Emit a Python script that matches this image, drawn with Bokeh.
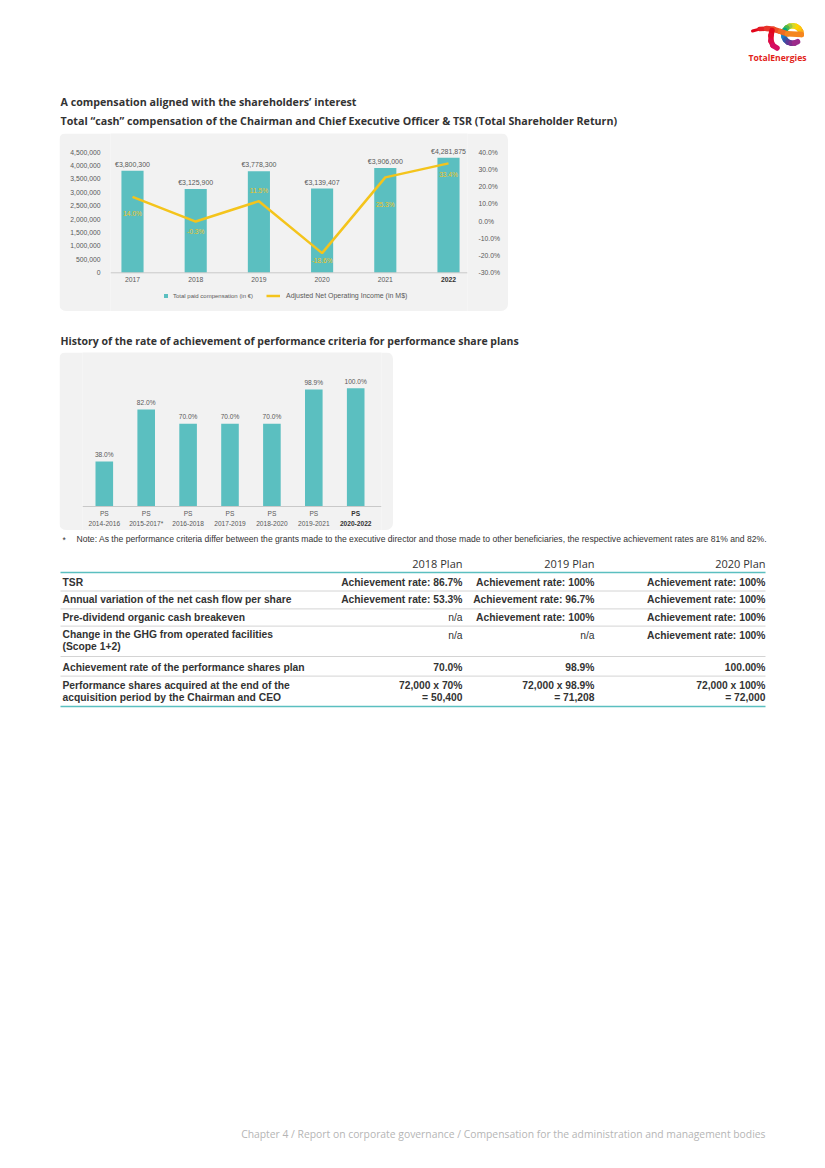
import numpy as np
from bokeh.plotting import figure
from bokeh.models import Range1d, LinearAxis, FixedTicker, Span, Legend, LegendItem, ColumnDataSource, Spacer
from bokeh.layouts import column, row
from bokeh.core.properties import value
from bokeh.embed import file_html
from bokeh.resources import INLINE

# ------------------------------------------------------------------ data
title_1 = "A compensation aligned with the shareholders\u2019 interest"
title_2 = "Total \u201ccash\u201d compensation of the Chairman and Chief Executive Officer & TSR (Total Shareholder Return)"
title_3 = "History of the rate of achievement of performance criteria for performance share plans"

years = ["2017", "2018", "2019", "2020", "2021", "2022"]
total_comp = [3800300, 3125900, 3778300, 3139407, 3906000, 4281875]
comp_labels = ["\u20ac3,800,300", "\u20ac3,125,900", "\u20ac3,778,300", "\u20ac3,139,407", "\u20ac3,906,000", "\u20ac4,281,875"]
tsr = [14.0, -0.3, 11.5, -18.6, 25.3, 33.4]
tsr_labels = ["14.0%", "-0.3%", "11.5%", "-18.6%", "25.3%", "33.4%"]
left_ticks = [0, 500000, 1000000, 1500000, 2000000, 2500000, 3000000, 3500000, 4000000, 4500000]
left_tick_labels = ["0", "500,000", "1,000,000", "1,500,000", "2,000,000", "2,500,000",
                    "3,000,000", "3,500,000", "4,000,000", "4,500,000"]
right_ticks = [-30, -20, -10, 0, 10, 20, 30, 40]
right_tick_labels = ["-30.0%", "-20.0%", "-10.0%", "0.0%", "10.0%", "20.0%", "30.0%", "40.0%"]
legend_bar = "Total paid compensation (in \u20ac)"
legend_line = "Adjusted Net Operating Income (in M$)"

ps_plans = ["2014-2016", "2015-2017*", "2016-2018", "2017-2019", "2018-2020", "2019-2021", "2020-2022"]
ps_rates = [38.0, 82.0, 70.0, 70.0, 70.0, 98.9, 100.0]
ps_labels = ["38.0%", "82.0%", "70.0%", "70.0%", "70.0%", "98.9%", "100.0%"]

footnote = ("Note: As the performance criteria differ between the grants made to the executive director "
            "and those made to other beneficiaries, the respective achievement rates are 81% and 82%.")

plan_headers = ["2018 Plan", "2019 Plan", "2020 Plan"]
row_labels = ["TSR",
              "Annual variation of the net cash flow per share",
              "Pre-dividend organic cash breakeven",
              "Change in the GHG from operated facilities\n(Scope 1+2)",
              "Achievement rate of the performance shares plan",
              "Performance shares acquired at the end of the\nacquisition period by the Chairman and CEO"]
plan_2018 = ["Achievement rate: 86.7%", "Achievement rate: 53.3%", "n/a", "n/a", "70.0%", "72,000 x 70%\n= 50,400"]
plan_2019 = ["Achievement rate: 100%", "Achievement rate: 96.7%", "Achievement rate: 100%", "n/a", "98.9%",
             "72,000 x 98.9%\n= 71,208"]
plan_2020 = ["Achievement rate: 100%", "Achievement rate: 100%", "Achievement rate: 100%", "Achievement rate: 100%",
             "100.00%", "72,000 x 100%\n= 72,000"]

footer = "Chapter 4 / Report on corporate governance / Compensation for the administration and management bodies"
brand = "TotalEnergies"

# ------------------------------------------------------------------ styles / layout
TEAL = "#5bbfc0"
YELLOW = "#f4c41c"
GRAY_TXT = "#595959"
DARK = "#333333"
PANEL = "#f2f2f2"
RULE = "#c9c9c9"
CHART_FONT = "Liberation Sans"
HEAD_FONT = "Open Sans"


def vrange(v_a, py_a, v_b, py_b, top, bottom):
    k = (v_b - v_a) / (py_a - py_b)
    return Range1d(start=v_a - (bottom - py_a) * k, end=v_a + (py_a - top) * k)


def hrange(px0, step, left, right):
    return Range1d(start=(left - px0) / step, end=(right - px0) / step)


def base_fig(**kw):
    p = figure(output_backend="svg", toolbar_location=None,
               x_axis_location=None, y_axis_location=None, **kw)
    p.outline_line_color = None
    p.xgrid.visible = False
    p.ygrid.visible = False
    return p


def txt(p, x, y, t, size, color=DARK, font=HEAD_FONT, style="normal", align="left",
        baseline="middle", **kw):
    p.text(x=x, y=y, text=t, text_font=value(font), text_font_size=size, text_font_style=style,
           text_color=color, text_align=align, text_baseline=baseline, **kw)


# ------------------------------------------------------------------ top (logo + titles)
top = base_fig(width=809, height=125, x_range=Range1d(8, 817), y_range=Range1d(133, 8), min_border=0)
top.background_fill_color = "white"
top.border_fill_color = "white"

# logo: swoosh "T" + rainbow "e"
cx, cy, r = 792.0, 34.0, 8.8
e_cols = ["#f7941d", "#fbad18", "#fdc70c", "#ffd500", "#d6d92c", "#9cc83f", "#4fb748",
          "#00a77f", "#0098c9", "#1c7cc4", "#3557a8", "#5a3b96", "#7e2d8e", "#9c2a8a"]
th = np.radians(np.linspace(0, 305, len(e_cols) + 1))
top.segment(x0=cx + r * np.cos(th[:-1]), y0=cy - r * np.sin(th[:-1]),
            x1=cx + r * np.cos(th[1:]), y1=cy - r * np.sin(th[1:]),
            line_color=e_cols, line_width=5.5, line_cap="round")
sw_x = np.array([752, 759, 766, 773, 780, 787, 800.8])
sw_y = np.array([30.5, 28.6, 28.0, 28.8, 31.0, 33.3, 34.0])
sw_c = ["#e2061b", "#e41d24", "#e8362a", "#ec4f26", "#f06b22", "#f5861e"]
sw_w = [3, 4.5, 5.5, 5.5, 5.5, 5.5]
top.segment(x0=sw_x[:-1], y0=sw_y[:-1], x1=sw_x[1:], y1=sw_y[1:], line_color=sw_c,
            line_width=sw_w, line_cap="round")
st_x = np.array([771.5, 770.5, 770.5, 772.5, 776.5])
st_y = np.array([30.0, 35.0, 40.5, 45.0, 47.5])
top.segment(x0=st_x[:-1], y0=st_y[:-1], x1=st_x[1:], y1=st_y[1:],
            line_color=["#e2061b", "#e0092f", "#dc0b4a", "#d50d62"], line_width=5.5, line_cap="round")
txt(top, [777], [57.5], [brand], "8.6px", color="#e2231a", style="bold", align="center")

txt(top, [60], [101.5], [title_1], "10.7px", style="bold")
txt(top, [60], [120.5], [title_2], "10.7px", style="bold")

# ------------------------------------------------------------------ chart 1
idx1 = list(range(len(years)))
p1 = base_fig(width=449, height=178, x_range=hrange(132, 63.2, 110, 467),
              y_range=vrange(0, 272.3, 4500000, 151.5, 133, 311),
              min_border_left=51, min_border_right=41, min_border_top=0, min_border_bottom=0)
p1.extra_y_ranges = {"pct": vrange(-30, 272.3, 40, 151.5, 133, 311)}
p1.background_fill_color = PANEL
p1.border_fill_color = PANEL
p1.styles = {"border-radius": "7px", "overflow": "hidden"}

ax_l = LinearAxis(ticker=FixedTicker(ticks=left_ticks),
                  major_label_overrides=dict(zip(left_ticks, left_tick_labels)))
ax_r = LinearAxis(y_range_name="pct", ticker=FixedTicker(ticks=right_ticks),
                  major_label_overrides=dict(zip(right_ticks, right_tick_labels)))
for ax, so in ((ax_l, 10), (ax_r, 11)):
    ax.axis_line_color = None
    ax.major_tick_line_color = None
    ax.minor_tick_line_color = None
    ax.major_tick_in = 0
    ax.major_tick_out = 0
    ax.major_label_standoff = so
    ax.major_label_text_font = CHART_FONT
    ax.major_label_text_font_size = "6.8px"
    ax.major_label_text_color = GRAY_TXT
p1.add_layout(ax_l, "left")
p1.add_layout(ax_r, "right")

bars1 = p1.vbar(x=idx1, top=total_comp, width=0.35, fill_color=TEAL, line_color=None)
p1.add_layout(Span(location=0, dimension="width", line_color=RULE, line_width=1))
line1 = p1.line(x=idx1, y=tsr, y_range_name="pct", line_color=YELLOW, line_width=2.5)

txt(p1, idx1, total_comp, comp_labels, "7px", color=GRAY_TXT, font=CHART_FONT, align="center",
    baseline="bottom", y_offset=-3)
tsr_label_dy = [16.5, 9.5, -11, 7.5, 27, 11]
src_tsr = ColumnDataSource(dict(x=idx1, y=tsr, t=tsr_labels, dy=tsr_label_dy))
p1.text(x="x", y="y", text="t", y_offset="dy", source=src_tsr, y_range_name="pct",
        text_font=value(CHART_FONT), text_font_size="6.6px", text_color=YELLOW,
        text_align="center", text_baseline="middle")
txt(p1, idx1[:-1], [0] * (len(years) - 1), years[:-1], "6.8px", color=GRAY_TXT, font=CHART_FONT,
    align="center", y_offset=7)
txt(p1, idx1[-1:], [0], years[-1:], "6.8px", color=DARK, font=CHART_FONT, style="bold",
    align="center", y_offset=7)

leg_common = dict(orientation="horizontal", glyph_height=5, label_height=7, padding=0, margin=0,
                  spacing=0, border_line_color=None, background_fill_alpha=0,
                  label_text_font=CHART_FONT, label_text_color=GRAY_TXT, label_text_baseline="middle")
leg1 = Legend(items=[LegendItem(label=legend_bar, renderers=[bars1])], location=(53, 11.8),
              glyph_width=5, label_standoff=5, label_text_font_size="6px", **leg_common)
leg2 = Legend(items=[LegendItem(label=legend_line, renderers=[line1])], location=(156, 11.8),
              glyph_width=14, label_standoff=6, label_text_font_size="7px", **leg_common)
p1.add_layout(leg1)
p1.add_layout(leg2)

# ------------------------------------------------------------------ heading 3
mid = base_fig(width=809, height=41, x_range=Range1d(8, 817), y_range=Range1d(352, 311), min_border=0)
mid.background_fill_color = "white"
mid.border_fill_color = "white"
txt(mid, [60], [340.5], [title_3], "10.5px", style="bold")

# ------------------------------------------------------------------ chart 2
idx2 = list(range(len(ps_plans)))
p2 = base_fig(width=334, height=178, x_range=hrange(103.8, 41.9, 82, 381),
              y_range=vrange(0, 506, 100, 387.7, 352, 530),
              min_border_left=23, min_border_right=12, min_border_top=0, min_border_bottom=0)
p2.background_fill_color = PANEL
p2.border_fill_color = PANEL
p2.styles = {"border-radius": "7px", "overflow": "hidden"}
p2.vbar(x=idx2, top=ps_rates, width=0.42, fill_color=TEAL, line_color=None)
p2.add_layout(Span(location=0, dimension="width", line_color=RULE, line_width=1))
txt(p2, idx2, ps_rates, ps_labels, "6.6px", color=GRAY_TXT, font=CHART_FONT, align="center",
    y_offset=-7)
n2 = len(ps_plans)
txt(p2, idx2[:-1], [0] * (n2 - 1), ["PS"] * (n2 - 1), "6.6px", color=GRAY_TXT, font=CHART_FONT,
    align="center", y_offset=6.7)
txt(p2, idx2[:-1], [0] * (n2 - 1), ps_plans[:-1], "6.6px", color=GRAY_TXT, font=CHART_FONT,
    align="center", y_offset=16.7)
txt(p2, idx2[-1:], [0], ["PS"], "6.6px", color=DARK, font=CHART_FONT, style="bold",
    align="center", y_offset=6.7)
txt(p2, idx2[-1:], [0], ps_plans[-1:], "6.6px", color=DARK, font=CHART_FONT, style="bold",
    align="center", y_offset=16.7)

# ------------------------------------------------------------------ footnote + table + footer
bot = base_fig(width=809, height=630, x_range=Range1d(8, 817), y_range=Range1d(1160, 530), min_border=0)
bot.background_fill_color = "white"
bot.border_fill_color = "white"

txt(bot, [62], [539], ["*"], "8.4px", font=CHART_FONT)
txt(bot, [76], [538], [footnote], "8.6px", font=CHART_FONT)

tbl_left, tbl_right = 60, 765
col_rights = [462, 594, 765]
header_y = 563
row_first_y = [581.7, 599.4, 616.8, 634.5, 666.9, 685.6]
line_gap = 11.0
sep_y = [590.5, 608.4, 625.6, 656.0, 675.6]
teal_y = [572.0, 706.0]


def block_y(first, t):
    return first + (t.count("\n")) * line_gap / 2


txt(bot, col_rights, [header_y] * 3, plan_headers, "11px", align="right")
bot.segment(x0=[tbl_left] * 2, y0=teal_y, x1=[tbl_right] * 2, y1=teal_y, line_color=TEAL, line_width=1.6)
bot.segment(x0=[tbl_left] * len(sep_y), y0=sep_y, x1=[tbl_right] * len(sep_y), y1=sep_y,
            line_color=RULE, line_width=0.8)
txt(bot, [62] * len(row_labels), [block_y(f, t) for f, t in zip(row_first_y, row_labels)], row_labels,
    "10.3px", font=CHART_FONT, style="bold", text_line_height=1.07)
for xr, col in zip(col_rights, [plan_2018, plan_2019, plan_2020]):
    b_i = [i for i, v in enumerate(col) if v != "n/a"]
    n_i = [i for i, v in enumerate(col) if v == "n/a"]
    txt(bot, [xr] * len(b_i), [block_y(row_first_y[i], col[i]) for i in b_i], [col[i] for i in b_i],
        "10.3px", font=CHART_FONT, style="bold", align="right", text_line_height=1.07)
    if n_i:
        txt(bot, [xr] * len(n_i), [row_first_y[i] for i in n_i], [col[i] for i in n_i], "10.3px",
            font=CHART_FONT, align="right")

txt(bot, [765], [1133], [footer], "10.35px", color="#b5b5b5", align="right")

# ------------------------------------------------------------------ page (8 px offset)
body = column(
    Spacer(width=809, height=8),
    top,
    row(Spacer(width=51, height=178), p1),
    mid,
    row(Spacer(width=51, height=178), p2),
    bot,
)
page = row(Spacer(width=8, height=1160), body)

open("out.html", "w").write(file_html(page, INLINE))
